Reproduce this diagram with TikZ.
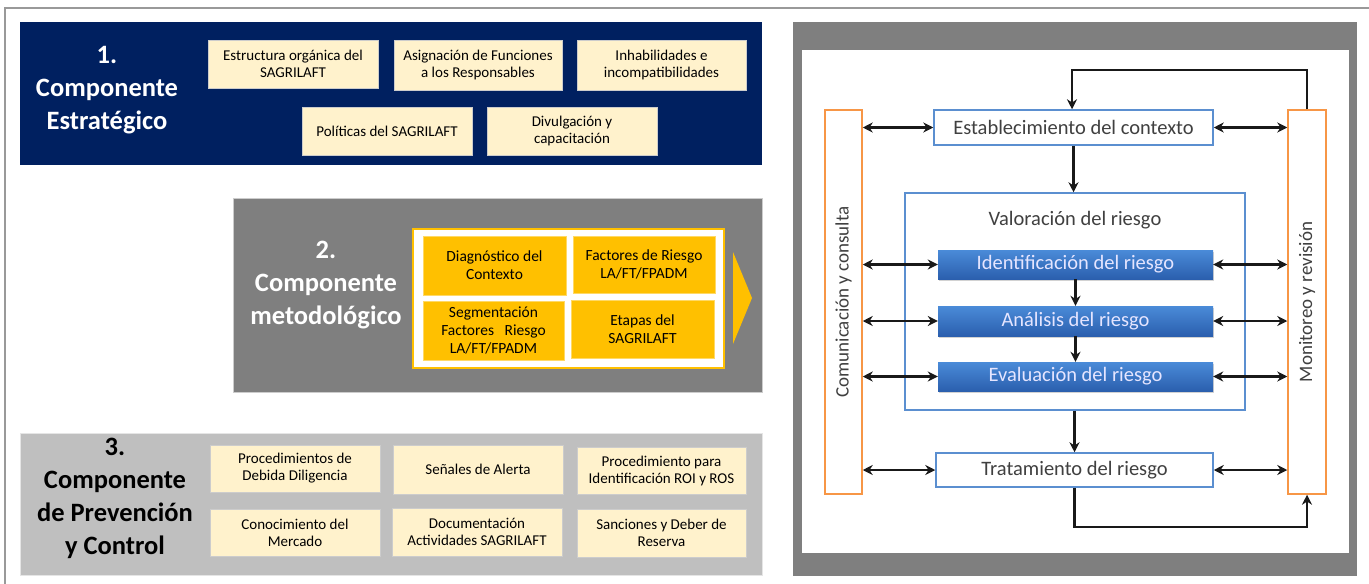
\documentclass[tikz,border=0pt]{standalone}
\usepackage{fontspec}
\setmainfont{Carlito}
\usetikzlibrary{arrows.meta,shadows}
\definecolor{navy}{HTML}{002060}
\definecolor{midgray}{HTML}{7F7F7F}
\definecolor{lightgray2}{HTML}{BFBFBF}
\definecolor{cream}{HTML}{FFF2CC}
\definecolor{gold}{HTML}{FFC000}
\definecolor{bluebord}{HTML}{5B8FD0}
\definecolor{bluetop}{HTML}{4A8BD8}
\definecolor{bluebot}{HTML}{2B5FAE}
\definecolor{orangeb}{HTML}{F79646}
\definecolor{txtgray}{HTML}{404040}
\begin{document}
\begin{tikzpicture}[x=1pt,y=-1pt,
  creambox/.style={fill=cream,draw=black!20,line width=0.6pt,inner sep=2pt,align=center,font=\fontsize{15}{17}\selectfont,text=black},
  goldbox/.style={fill=gold,draw=gold!60!white,line width=0.6pt,inner sep=2pt,align=center,font=\fontsize{15.5}{18}\selectfont,text=black},
  ptitle/.style={align=center,font=\bfseries\fontsize{26.5}{33}\selectfont},
  whitebox/.style={fill=white,draw=bluebord,line width=1.5pt,inner sep=2pt,font=\fontsize{20.5}{22}\selectfont,text=txtgray},
  bluebox/.style={top color=bluetop,bottom color=bluebot,draw=none,inner sep=2pt,font=\fontsize{20.5}{22}\selectfont,text=white!90!blue,drop shadow={shadow xshift=1pt,shadow yshift=-1.5pt,opacity=0.35}},
  sidebar/.style={fill=white,draw=orangeb,line width=1.5pt,inner sep=0pt},
  sidetext/.style={rotate=90,font=\fontsize{19}{21}\selectfont,text=txtgray},
  conn/.style={line width=2.5pt,draw=black!90,-{Stealth[length=10pt,width=10pt]}},
  dconn/.style={line width=2.5pt,draw=black!90,{Stealth[length=10pt,width=10pt]}-{Stealth[length=10pt,width=10pt]}}
]
\useasboundingbox (0,0) rectangle (1369,584);
% outer frame lines
\draw[line width=1.5pt,draw=black!40] (5,584) -- (5,8) -- (1369,8);

% ---------- Panel 1 ----------
\fill[navy] (20,22) rectangle (762,165);
\node[ptitle,text=white] (t1) at (107,90) {1.\\Componente\\Estratégico};
\node[creambox,minimum width=170pt,minimum height=48pt] (e1) at (293,64) {Estructura orgánica del\\SAGRILAFT};
\node[creambox,minimum width=168pt,minimum height=50pt] (e2) at (478,65) {Asignación de Funciones\\a los Responsables};
\node[creambox,minimum width=169pt,minimum height=50pt] (e3) at (661.5,65) {Inhabilidades e\\incompatibilidades};
\node[creambox,minimum width=170pt,minimum height=48pt] (e4) at (387,131) {Políticas del SAGRILAFT};
\node[creambox,minimum width=170pt,minimum height=48pt] (e5) at (572,131) {Divulgación y\\capacitación};

% ---------- Panel 2 ----------
\filldraw[fill=midgray,draw=black!20,line width=0.6pt] (233,198) rectangle (762,392);
\node[ptitle,text=white] (t2) at (326,285) {2.\\Componente\\metodológico};
\filldraw[fill=white,draw=gold,line width=1.2pt] (413,229) rectangle (724,368);
\node[goldbox,minimum width=143pt,minimum height=59pt] (m1) at (494.5,265.5) {Diagnóstico del\\Contexto};
\node[goldbox,minimum width=142pt,minimum height=57pt] (m2) at (644,264.5) {Factores de Riesgo\\LA/FT/FPADM};
\node[goldbox,minimum width=141pt,minimum height=59pt] (m3) at (493.5,330.5) {Segmentación\\Factores\ \ \ Riesgo\\LA/FT/FPADM};
\node[goldbox,minimum width=143pt,minimum height=58pt] (m4) at (642.5,329) {Etapas del\\SAGRILAFT};
\fill[gold] (733,252) -- (752,298) -- (733,344) -- cycle;

% ---------- Panel 3 ----------
\filldraw[fill=lightgray2,draw=black!10,line width=0.6pt] (20,433) rectangle (762,575);
\node[ptitle,text=black] (t3) at (115,498) {3.\\Componente\\de Prevención\\y Control};
\node[creambox,minimum width=170pt,minimum height=47pt] (p1) at (295,468.5) {Procedimientos de\\Debida Diligencia};
\node[creambox,minimum width=170pt,minimum height=49pt] (p2) at (478,469.5) {Señales de Alerta};
\node[creambox,minimum width=169pt,minimum height=47pt] (p3) at (661.5,470.5) {Procedimiento para\\Identificación ROI y ROS};
\node[creambox,minimum width=170pt,minimum height=47pt] (p4) at (295,532.5) {Conocimiento del\\Mercado};
\node[creambox,minimum width=170pt,minimum height=48pt] (p5) at (477,532) {Documentación\\Actividades SAGRILAFT};
\node[creambox,minimum width=169pt,minimum height=48pt] (p6) at (661.5,533) {Sanciones y Deber de\\Reserva};

% ---------- Right diagram ----------
\fill[midgray] (793,22) rectangle (1357,576);
\fill[white] (802,50) rectangle (1349,553);

\node[sidebar,minimum width=37pt,minimum height=384pt] (lb) at (843.5,302) {};
\node[sidetext] (lbt) at (843.5,302) {Comunicación y consulta};
\node[sidebar,minimum width=38pt,minimum height=384pt] (rb) at (1307,302) {};
\node[sidetext] (rbt) at (1307,302) {Monitoreo y revisión};

\node[whitebox,minimum width=279pt,minimum height=35pt] (est) at (1073.5,127.5) {Establecimiento del contexto};
\node[draw=bluebord,line width=1.5pt,fill=white,minimum width=340pt,minimum height=217pt,inner sep=0pt] (val) at (1075,301.5) {};
\node[font=\fontsize{20.5}{22}\selectfont,text=txtgray] (valt) at (1075,220) {Valoración del riesgo};
\node[bluebox,minimum width=275pt,minimum height=29pt] (id) at (1075.5,264.5) {Identificación del riesgo};
\node[bluebox,minimum width=275pt,minimum height=30pt] (an) at (1075.5,321) {Análisis del riesgo};
\node[bluebox,minimum width=275pt,minimum height=29pt] (ev) at (1075.5,376.5) {Evaluación del riesgo};
\node[whitebox,minimum width=277pt,minimum height=34pt] (tr) at (1074.5,470) {Tratamiento del riesgo};

% vertical flow
\draw[conn] (est.south) -- (est.south |- val.north);
\draw[conn] (id.south) -- (an.north);
\draw[conn] (an.south) -- (ev.north);
\draw[conn] (val.south -| tr.north) -- (tr.north);

% feedback loops
\coordinate (fbTop) at (1308,70);
\draw[conn] (rb.north) -- (rb.north |- fbTop) -| ([xshift=-1.5pt]est.north);
\coordinate (fbBot) at (1075,527);
\draw[conn] (tr.south) -- (tr.south |- fbBot) -| (rb.south);

% two-way links
\foreach \n in {est,id,an,ev,tr}{
  \draw[dconn] (\n.west -| lb.east) -- (\n.west);
  \draw[dconn] (\n.east) -- (\n.east -| rb.west);
}
\end{tikzpicture}
\end{document}
